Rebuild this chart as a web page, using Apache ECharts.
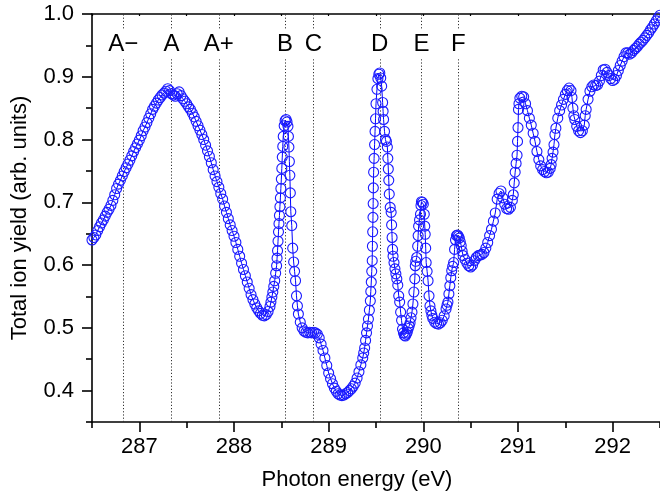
<!DOCTYPE html>
<html>
<head>
<meta charset="utf-8">
<script src="https://cdn.jsdelivr.net/npm/echarts@6/dist/echarts.min.js"></script>
<style>
html,body{margin:0;padding:0;background:#fff;}
#chart{width:660px;height:496px;}
</style>
</head>
<body>
<div id="chart"></div>
<script>
// Photon energy (eV)
const energy = [
286.50,286.52,286.54,286.56,286.58,286.60,286.62,286.64,286.66,286.68,
286.70,286.72,286.74,286.76,286.78,286.80,286.82,286.84,286.86,286.88,
286.90,286.92,286.94,286.96,286.98,287.00,287.02,287.04,287.06,287.08,
287.10,287.12,287.14,287.16,287.18,287.20,287.22,287.24,287.26,287.28,
287.30,287.32,287.34,287.36,287.38,287.40,287.42,287.44,287.46,287.48,
287.50,287.52,287.54,287.56,287.58,287.60,287.62,287.64,287.66,287.68,
287.70,287.72,287.74,287.76,287.78,287.80,287.82,287.84,287.86,287.88,
287.90,287.92,287.94,287.96,287.98,288.00,288.02,288.04,288.06,288.08,
288.10,288.12,288.14,288.16,288.18,288.20,288.22,288.24,288.26,288.28,
288.30,288.32,288.34,288.36,288.38,
288.39,288.40,288.41,288.42,288.43,288.44,288.45,288.455,288.46,288.465,
288.47,288.475,288.48,288.485,288.49,288.495,288.50,288.505,288.51,288.515,
288.52,288.53,288.54,288.55,288.56,288.57,288.575,288.58,288.585,288.59,
288.595,288.60,288.61,288.62,288.63,288.64,288.65,288.66,288.67,288.68,
288.70,288.72,288.74,288.76,288.78,288.80,288.82,288.84,288.86,288.88,
288.90,288.92,288.94,288.96,288.98,289.00,289.02,289.04,289.06,289.08,
289.10,289.12,289.14,289.16,289.18,289.20,289.22,289.24,289.26,289.28,
289.30,289.32,289.34,289.36,289.37,289.38,289.39,289.40,289.41,289.42,
289.43,289.44,289.445,289.45,289.455,289.46,289.462,289.465,289.468,289.47,
289.472,289.475,289.48,289.485,289.49,289.495,289.50,289.51,289.52,289.53,
289.54,289.55,289.56,289.57,289.575,289.58,289.59,289.60,289.61,289.62,
289.625,289.63,289.635,289.64,289.65,289.66,289.665,289.67,289.675,289.68,
289.69,289.70,289.71,289.72,289.73,289.74,289.75,289.76,289.77,289.78,
289.79,289.80,289.81,289.82,289.83,289.84,289.85,289.86,289.87,289.88,
289.89,289.90,289.91,289.915,289.92,289.93,289.94,289.945,289.95,289.96,
289.97,289.975,289.98,289.99,290.00,290.01,290.015,290.02,290.025,290.03,
290.04,290.05,290.06,290.07,290.08,290.09,290.10,290.12,290.14,290.16,
290.18,290.20,290.22,290.24,290.25,290.26,290.27,290.28,290.29,290.30,
290.31,290.32,290.33,290.34,290.35,290.36,290.37,290.38,290.39,290.40,
290.41,290.42,290.44,290.46,290.48,290.50,290.52,290.54,290.56,290.58,
290.60,290.62,290.64,290.66,290.68,290.70,290.72,290.74,290.76,290.78,
290.80,290.82,290.84,290.86,290.88,290.90,290.92,290.94,290.95,290.96,
290.97,290.98,290.99,290.995,291.00,291.005,291.01,291.02,291.04,291.06,
291.08,291.10,291.12,291.14,291.16,291.18,291.20,291.22,291.24,291.26,
291.28,291.30,291.32,291.34,291.35,291.36,291.37,291.38,291.39,291.40,
291.42,291.44,291.46,291.48,291.50,291.52,291.54,291.56,291.57,291.58,
291.59,291.60,291.62,291.64,291.66,291.68,291.70,291.71,291.72,291.74,
291.76,291.78,291.80,291.82,291.84,291.86,291.88,291.90,291.92,291.94,
291.96,291.98,292.00,292.02,292.04,292.06,292.08,292.10,292.12,292.14,
292.16,292.18,292.20,292.22,292.24,292.26,292.28,292.30,292.32,292.34,
292.36,292.38,292.40,292.42,292.44,292.46,292.48,292.50
];
// Total ion yield (arb. units)
const ionYield = [
0.640,0.644,0.648,0.655,0.661,0.667,0.672,0.678,0.684,0.689,
0.695,0.703,0.712,0.722,0.729,0.735,0.742,0.749,0.755,0.761,
0.767,0.774,0.781,0.787,0.793,0.799,0.806,0.814,0.820,0.827,
0.834,0.841,0.848,0.853,0.858,0.863,0.867,0.871,0.874,0.877,
0.881,0.878,0.873,0.871,0.869,0.873,0.876,0.870,0.865,0.861,
0.857,0.852,0.848,0.842,0.836,0.829,0.822,0.815,0.808,0.800,
0.791,0.782,0.773,0.763,0.752,0.742,0.733,0.724,0.714,0.705,
0.694,0.684,0.674,0.664,0.655,0.646,0.636,0.625,0.614,0.603,
0.593,0.583,0.573,0.563,0.553,0.545,0.538,0.532,0.527,0.523,
0.520,0.519,0.521,0.526,0.534,
0.541,0.549,0.557,0.566,0.575,0.587,0.599,0.611,0.623,0.638,
0.653,0.666,0.679,0.693,0.707,0.722,0.737,0.754,0.772,0.789,
0.805,0.822,0.830,0.832,0.828,0.821,0.805,0.788,0.765,0.743,
0.715,0.685,0.663,0.627,0.605,0.590,0.575,0.551,0.535,0.522,
0.509,0.500,0.495,0.493,0.492,0.493,0.492,0.493,0.492,0.490,
0.484,0.474,0.464,0.452,0.440,0.428,0.419,0.411,0.404,0.399,
0.395,0.393,0.392,0.393,0.395,0.397,0.400,0.403,0.407,0.412,
0.420,0.430,0.441,0.452,0.460,0.468,0.480,0.492,0.503,0.514,
0.528,0.543,0.558,0.573,0.590,0.607,0.630,0.653,0.676,0.698,
0.723,0.748,0.770,0.792,0.813,0.833,0.857,0.880,0.897,0.904,
0.906,0.898,0.885,0.859,0.845,0.832,0.813,0.800,0.797,0.788,
0.770,0.753,0.735,0.713,0.692,0.684,0.664,0.644,0.625,0.614,
0.604,0.594,0.586,0.578,0.568,0.551,0.541,0.525,0.512,0.498,
0.492,0.488,0.487,0.490,0.493,0.499,0.503,0.508,0.516,0.525,
0.538,0.557,0.578,0.599,0.606,0.612,0.630,0.647,0.662,0.672,
0.681,0.695,0.701,0.700,0.697,0.681,0.662,0.649,0.627,0.604,
0.590,0.575,0.551,0.535,0.527,0.520,0.515,0.509,0.507,0.506,
0.508,0.512,0.519,0.530,0.536,0.541,0.554,0.567,0.580,0.591,
0.598,0.604,0.625,0.640,0.647,0.648,0.646,0.643,0.637,0.631,
0.622,0.615,0.609,0.603,0.599,0.597,0.600,0.607,0.612,0.615,
0.616,0.617,0.620,0.627,0.636,0.647,0.657,0.670,0.683,0.705,
0.714,0.718,0.707,0.697,0.690,0.689,0.692,0.703,0.712,0.731,
0.748,0.762,0.775,0.797,0.819,0.848,0.857,0.866,0.869,0.868,
0.857,0.846,0.834,0.823,0.810,0.797,0.781,0.768,0.758,0.752,
0.749,0.747,0.748,0.754,0.760,0.770,0.780,0.792,0.808,0.818,
0.834,0.846,0.855,0.864,0.872,0.878,0.882,0.878,0.867,0.850,
0.838,0.832,0.821,0.814,0.811,0.814,0.823,0.838,0.848,0.864,
0.877,0.884,0.887,0.886,0.887,0.893,0.902,0.911,0.912,0.907,
0.902,0.897,0.894,0.896,0.902,0.910,0.918,0.925,0.932,0.938,
0.938,0.936,0.938,0.942,0.945,0.948,0.952,0.955,0.958,0.962,
0.966,0.970,0.975,0.979,0.984,0.989,0.994,0.998
];
// Reference transitions (vertical dotted lines)
const markerNames = ['A\u2212','A','A+','B','C','D','E','F'];
const markerEnergies = [286.83,287.34,287.84,288.54,288.84,289.54,289.98,290.37];
const markerLabelLevel = 0.952;
// Ticks
const xMajorTicks = [287,288,289,290,291,292];
const xMinorTicks = [286.5,287.5,288.5,289.5,290.5,291.5,292.5];
const yMajorTicks = [0.4,0.5,0.6,0.7,0.8,0.9,1.0];
const yMinorTicks = [0.35,0.45,0.55,0.65,0.75,0.85,0.95];

const FONT = "'Liberation Sans', Arial, sans-serif";
const points = energy.map((e, i) => [e, ionYield[i]]);

const chart = echarts.init(document.getElementById('chart'), null, {renderer: 'canvas'});
const axisLineStyle = {color: '#000', width: 1.6};
const gridDef = {left: 92, top: 14, width: 570, height: 408, containLabel: false};

chart.setOption({
  animation: false,
  backgroundColor: '#fff',
  grid: gridDef,
  xAxis: [
    {
      type: 'value', min: 286.5, max: 292.5, position: 'bottom',
      axisLine: {show: true, onZero: false, lineStyle: axisLineStyle},
      axisTick: {show: true, inside: false, length: 10, lineStyle: {color: '#000', width: 1.6}, customValues: xMajorTicks},
      axisLabel: {show: true, margin: 14, color: '#000', fontSize: 22, fontFamily: FONT, customValues: xMajorTicks, formatter: v => String(Math.round(v))},
      splitLine: {show: false},
      name: 'Photon energy (eV)', nameLocation: 'middle', nameGap: 47,
      nameTextStyle: {color: '#000', fontSize: 22, fontFamily: FONT, padding: [0, 38, 0, 0]}
    },
    {
      type: 'value', min: 286.5, max: 292.5, position: 'bottom',
      axisLine: {show: false, onZero: false},
      axisTick: {show: true, inside: false, length: 6, lineStyle: {color: '#000', width: 1.6}, customValues: xMinorTicks},
      axisLabel: {show: false}, splitLine: {show: false}
    },
    {
      type: 'value', min: 286.5, max: 292.5, position: 'top',
      axisLine: {show: true, onZero: false, lineStyle: axisLineStyle},
      axisTick: {show: true, inside: true, length: 2, lineStyle: {color: '#000', width: 1.2}, customValues: xMajorTicks.concat(xMinorTicks)},
      axisLabel: {show: false}, splitLine: {show: false}
    }
  ],
  yAxis: [
    {
      type: 'value', min: 0.35, max: 1.0, position: 'left',
      axisLine: {show: true, onZero: false, lineStyle: axisLineStyle},
      axisTick: {show: true, inside: false, length: 10, lineStyle: {color: '#000', width: 1.6}, customValues: yMajorTicks},
      axisLabel: {show: true, margin: 18, color: '#000', fontSize: 22, fontFamily: FONT, customValues: yMajorTicks, formatter: v => v.toFixed(1)},
      splitLine: {show: false},
      name: 'Total ion yield (arb. units)', nameLocation: 'middle', nameGap: 61,
      nameTextStyle: {color: '#000', fontSize: 22, fontFamily: FONT}
    },
    {
      type: 'value', min: 0.35, max: 1.0, position: 'left',
      axisLine: {show: false, onZero: false},
      axisTick: {show: true, inside: false, length: 6, lineStyle: {color: '#000', width: 1.6}, customValues: yMinorTicks},
      axisLabel: {show: false}, splitLine: {show: false}
    }
  ],
  series: [
    {
      type: 'line',
      xAxisIndex: 0, yAxisIndex: 0,
      data: points,
      symbol: 'circle',
      symbolSize: 10,
      showAllSymbol: true,
      sampling: null,
      lineStyle: {color: '#0000ff', width: 1},
      itemStyle: {color: 'rgba(0,0,0,0)', borderColor: '#1a1aff', borderWidth: 1.1},
      z: 3,
      markLine: {
        silent: true,
        symbol: ['none', 'none'],
        label: {show: false},
        lineStyle: {color: '#333', type: [1.2, 2], width: 1, opacity: 1},
        data: markerEnergies.map(e => ({xAxis: e})),
        z: 1
      }
    },
    {
      type: 'scatter',
      xAxisIndex: 0, yAxisIndex: 0,
      data: markerEnergies.map((e, i) => ({value: [e, markerLabelLevel], name: markerNames[i]})),
      symbolSize: 0,
      silent: true,
      z: 10,
      itemStyle: {opacity: 1},
      label: {
        show: true, position: 'inside', opacity: 1,
        formatter: p => p.name,
        color: '#000', fontSize: 24, fontFamily: FONT,
        backgroundColor: '#fff', padding: [3, 2, 3, 2]
      }
    }
  ]
});
</script>
</body>
</html>
